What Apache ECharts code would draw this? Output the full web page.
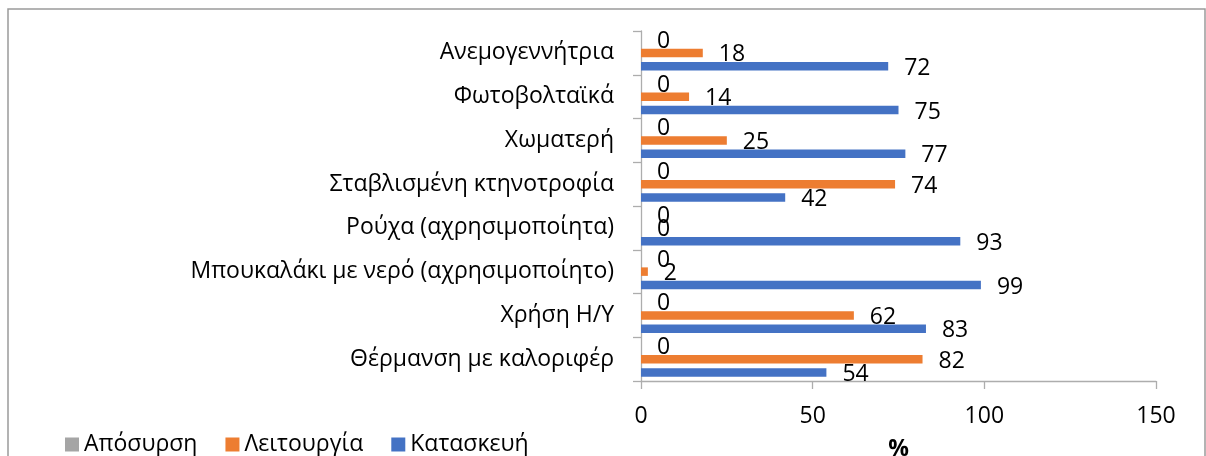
<!DOCTYPE html>
<html>
<head>
<meta charset="utf-8">
<script src="https://cdn.jsdelivr.net/npm/echarts@6/dist/echarts.min.js"></script>
<style>
  html, body { margin: 0; padding: 0; background: #fff; }
  #chart { width: 1206px; height: 456px; }
</style>
</head>
<body>
<div id="chart"></div>
<script>
// Categories listed bottom to top along the category axis
const categories = [
  'Θέρμανση με καλοριφέρ',
  'Χρήση Η/Υ',
  'Μπουκαλάκι με νερό (αχρησιμοποίητο)',
  'Ρούχα (αχρησιμοποίητα)',
  'Σταβλισμένη κτηνοτροφία',
  'Χωματερή',
  'Φωτοβολταϊκά',
  'Ανεμογεννήτρια'
];
const construction = [54, 83, 99, 93, 42, 77, 75, 72];   // Κατασκευή
const operation    = [82, 62, 2, 0, 74, 25, 14, 18];     // Λειτουργία
const withdrawal   = [0, 0, 0, 0, 0, 0, 0, 0];           // Απόσυρση
const legendOrder  = ['Απόσυρση', 'Λειτουργία', 'Κατασκευή'];
const xTicks = { min: 0, max: 150, interval: 50 };

const FONT = '"Open Sans", "Noto Sans", sans-serif';
const FS = 23;

const chart = echarts.init(document.getElementById('chart'), null, { renderer: 'canvas' });

function barSeries(name, data, color) {
  return {
    name: name,
    type: 'bar',
    data: data,
    barWidth: 8.5,
    barGap: '58%',
    itemStyle: { color: color },
    label: {
      show: true,
      position: 'right',
      distance: 16,
      offset: [0, 2],
      color: '#000',
      fontFamily: FONT,
      fontSize: FS
    },
    animation: false
  };
}

chart.setOption({
  animation: false,
  textStyle: { fontFamily: FONT },
  graphic: [{
    type: 'rect',
    shape: { x: 8, y: 9, width: 1197, height: 470 },
    style: { fill: 'none', stroke: '#9a9a9a', lineWidth: 1.5 },
    silent: true
  }],
  grid: { left: 641, right: 50, top: 31, bottom: 75, containLabel: false, outerBoundsMode: 'none' },
  legend: {
    left: 60,
    top: 428,
    data: legendOrder,
    itemWidth: 14,
    itemHeight: 14,
    itemGap: 28,
    icon: 'rect',
    textStyle: { color: '#000', fontFamily: FONT, fontSize: FS }
  },
  xAxis: {
    type: 'value',
    min: xTicks.min,
    max: xTicks.max,
    interval: xTicks.interval,
    name: '%',
    nameLocation: 'middle',
    nameGap: 57,
    nameTextStyle: { color: '#000', fontWeight: 'bold', fontFamily: FONT, fontSize: FS },
    axisLine: { show: true, lineStyle: { color: '#adadad', width: 1.3 } },
    axisTick: { show: true, length: 8, lineStyle: { color: '#adadad', width: 1.3 } },
    axisLabel: { color: '#000', fontFamily: FONT, fontSize: FS, margin: 24 },
    splitLine: { show: false }
  },
  yAxis: {
    type: 'category',
    data: categories,
    axisLine: { show: true, lineStyle: { color: '#adadad', width: 1.3 } },
    axisTick: { show: true, length: 8, alignWithLabel: false, lineStyle: { color: '#adadad', width: 1.3 } },
    axisLabel: { color: '#000', fontFamily: FONT, fontSize: FS, margin: 27 }
  },
  // the first series sits at the top of each category band
  series: [
    barSeries('Απόσυρση', withdrawal, '#A5A5A5'),
    barSeries('Λειτουργία', operation, '#ED7D31'),
    barSeries('Κατασκευή', construction, '#4472C4')
  ]
});
</script>
</body>
</html>
